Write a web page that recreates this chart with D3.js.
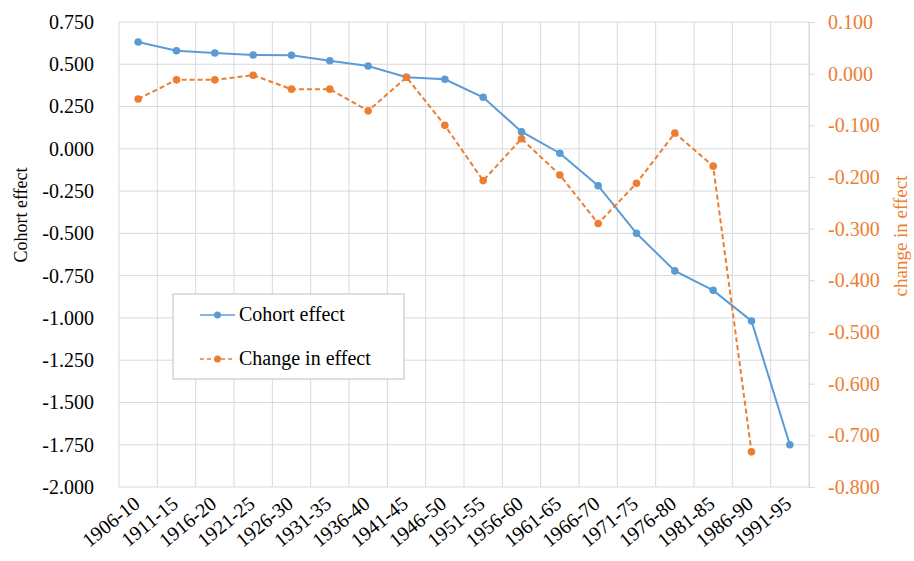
<!DOCTYPE html>
<html>
<head>
<meta charset="utf-8">
<script src="https://d3js.org/d3.v7.min.js"></script>
<style>
  body { margin: 0; background: #fff; }
  text { font-family: "Liberation Serif", "Times New Roman", serif; }
</style>
</head>
<body>
<div id="chart"></div>
<script>
// cohort groups
const cohorts = ["1906-10","1911-15","1916-20","1921-25","1926-30","1931-35","1936-40","1941-45","1946-50",
                 "1951-55","1956-60","1961-65","1966-70","1971-75","1976-80","1981-85","1986-90","1991-95"];
// cohort effect (left axis)
const cohortEffect = [0.632, 0.580, 0.567, 0.555, 0.553, 0.521, 0.490, 0.423, 0.411,
                      0.305, 0.101, -0.026, -0.218, -0.500, -0.722, -0.837, -1.018, -1.750];
// change in effect (right axis), none for last cohort
const changeEffect = [-0.049, -0.012, -0.012, -0.003, -0.030, -0.030, -0.072, -0.007, -0.100,
                      -0.207, -0.126, -0.196, -0.290, -0.212, -0.115, -0.179, -0.732, null];
const leftTicks = [0.75, 0.5, 0.25, 0, -0.25, -0.5, -0.75, -1, -1.25, -1.5, -1.75, -2];
const rightTicks = [0.1, 0, -0.1, -0.2, -0.3, -0.4, -0.5, -0.6, -0.7, -0.8];

const blue = "#5b9bd5", orange = "#ed7d31", grid = "#d9d9d9";
const W = 914, H = 561;
const margin = {top: 22, right: 105, bottom: 74, left: 119};
const width = W - margin.left - margin.right;
const height = H - margin.top - margin.bottom;

const svg = d3.select("#chart").append("svg")
    .attr("width", W).attr("height", H)
    .append("g")
    .attr("transform", "translate(" + margin.left + "," + margin.top + ")");

const x = d3.scaleBand().domain(cohorts).range([0, width]);
const y = d3.scaleLinear().domain([-2, 0.75]).range([height, 0]);
const y2 = d3.scaleLinear().domain([-0.8, 0.1]).range([height, 0]);
const fmt = d => d3.format(".3f")(d).replace("−", "-");

// gridlines
svg.append("g").selectAll("line")
    .data(leftTicks).join("line")
    .attr("x1", 0).attr("x2", width)
    .attr("y1", d => y(d)).attr("y2", d => y(d))
    .attr("stroke", grid).attr("stroke-width", 1);
svg.append("g").selectAll("line")
    .data(d3.range(cohorts.length + 1)).join("line")
    .attr("x1", i => i * x.step()).attr("x2", i => i * x.step())
    .attr("y1", 0).attr("y2", height)
    .attr("stroke", grid).attr("stroke-width", 1);

// left axis
const yAxis = d3.axisLeft(y).tickValues(leftTicks).tickSize(0).tickPadding(25);
const gy = svg.append("g").call(yAxis);
gy.select(".domain").remove();
gy.selectAll("text").attr("font-size", 20).attr("fill", "#000").text(fmt);

// right axis
const y2Axis = d3.axisRight(y2).tickValues(rightTicks).tickSize(6).tickPadding(13);
const gy2 = svg.append("g").attr("transform", "translate(" + width + ",0)").call(y2Axis);
gy2.select(".domain").attr("stroke", grid);
gy2.selectAll("line").attr("stroke", grid);
gy2.selectAll("text").attr("font-size", 20).attr("fill", orange).text(fmt);

// x axis labels
svg.append("g").selectAll("text")
    .data(cohorts).join("text")
    .attr("transform", d => "translate(" + (x(d) + x.bandwidth() / 2 + 3) + "," + (height + 19) + ") rotate(-39)")
    .attr("text-anchor", "end")
    .attr("font-size", 20)
    .attr("fill", "#000")
    .text(d => d);

// axis titles
svg.append("text")
    .attr("transform", "translate(" + (27 - margin.left) + "," + (215 - margin.top) + ") rotate(-90)")
    .attr("text-anchor", "middle").attr("font-size", 18).attr("fill", "#000")
    .text("Cohort effect");
svg.append("text")
    .attr("transform", "translate(" + (907 - margin.left) + "," + (236 - margin.top) + ") rotate(-90)")
    .attr("text-anchor", "middle").attr("font-size", 19).attr("fill", orange)
    .text("change in effect");

// lines
const cx = (d, i) => x(cohorts[i]) + x.bandwidth() / 2;
const blueLine = d3.line().x(cx).y(d => y(d));
const orangeLine = d3.line().defined(d => d !== null).x(cx).y(d => y2(d));

svg.append("path").datum(cohortEffect)
    .attr("fill", "none").attr("stroke", blue).attr("stroke-width", 2)
    .attr("d", blueLine);
svg.append("g").selectAll("circle")
    .data(cohortEffect).join("circle")
    .attr("cx", cx).attr("cy", d => y(d)).attr("r", 3.8)
    .attr("fill", blue);

svg.append("path").datum(changeEffect)
    .attr("fill", "none").attr("stroke", orange).attr("stroke-width", 2)
    .attr("stroke-dasharray", "5,3")
    .attr("d", orangeLine);
svg.append("g").selectAll("circle")
    .data(changeEffect.map((v, i) => ({v, i})).filter(d => d.v !== null)).join("circle")
    .attr("cx", d => cx(d.v, d.i)).attr("cy", d => y2(d.v)).attr("r", 3.8)
    .attr("fill", orange);

// legend
const lg = svg.append("g").attr("transform", "translate(" + (173 - margin.left) + "," + (294 - margin.top) + ")");
lg.append("rect").attr("width", 231).attr("height", 85)
    .attr("fill", "#fff").attr("stroke", "#bfbfbf").attr("stroke-width", 1);
const items = [{name: "Cohort effect", color: blue, dash: null, yy: 21},
               {name: "Change in effect", color: orange, dash: "4,3", yy: 65}];
items.forEach(it => {
    lg.append("line").attr("x1", 27).attr("x2", 62).attr("y1", it.yy).attr("y2", it.yy)
        .attr("stroke", it.color).attr("stroke-width", 1.5)
        .attr("stroke-dasharray", it.dash);
    lg.append("circle").attr("cx", 44.5).attr("cy", it.yy).attr("r", 3.5).attr("fill", it.color);
    lg.append("text").attr("x", 66).attr("y", it.yy + 6)
        .attr("font-size", 20).attr("fill", "#000").text(it.name);
});
</script>
</body>
</html>
